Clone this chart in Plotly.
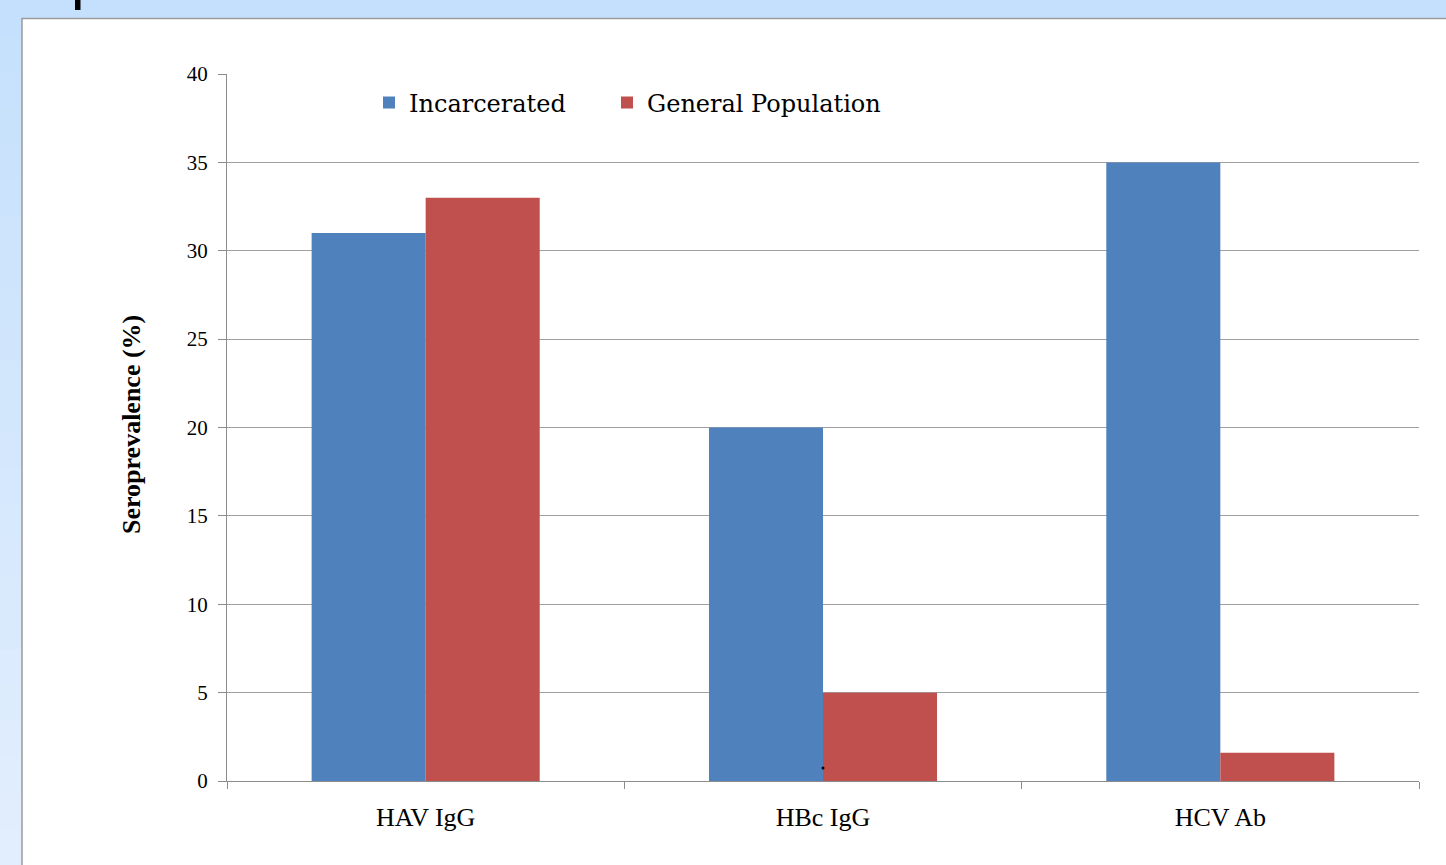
import plotly.graph_objects as go

categories = ["HAV IgG", "HBc IgG", "HCV Ab"]
incarcerated = [31, 20, 35]
general_population = [33, 5, 1.6]
series_names = ["Incarcerated", "General Population"]
y_ticks = [0, 5, 10, 15, 20, 25, 30, 35, 40]

W, H = 1446, 865
L, R, T, B = 227, 1419, 74, 781
pw, ph = R - L, B - T

def px(x):
    return (x - L) / pw

def py(y):
    return (B - y) / ph

SERIF = "Liberation Serif, Times New Roman, serif"
WIDE_SERIF = "DejaVu Serif, serif"

fig = go.Figure()
fig.add_trace(go.Bar(x=categories, y=incarcerated, name=series_names[0],
                     legend="legend",
                     marker=dict(color="#4F81BD", line=dict(width=0))))
fig.add_trace(go.Bar(x=categories, y=general_population, name=series_names[1],
                     legend="legend2",
                     marker=dict(color="#C0504D", line=dict(width=0))))

shapes = []
# gradient slide background
n = 24
top_c = (197, 224, 252)
bot_c = (226, 238, 253)
for i in range(n):
    t = i / (n - 1)
    c = tuple(round(top_c[k] + (bot_c[k] - top_c[k]) * t) for k in range(3))
    y0 = i * H / n
    y1 = (i + 1) * H / n + 1
    shapes.append(dict(type="rect", xref="paper", yref="paper", layer="below",
                       x0=px(-5), x1=px(W + 5), y0=py(y1), y1=py(y0),
                       fillcolor="rgb(%d,%d,%d)" % c, line=dict(width=0)))
# white panel
shapes.append(dict(type="rect", xref="paper", yref="paper", layer="below",
                   x0=px(22), x1=px(W + 20), y0=py(H + 20), y1=py(18.5),
                   fillcolor="white", line=dict(color="#9a9a9a", width=1.5)))
# black mark at top
shapes.append(dict(type="rect", xref="paper", yref="paper", layer="above",
                   x0=px(75), x1=px(80.5), y0=py(10), y1=py(-2),
                   fillcolor="black", line=dict(width=0)))
# small dot
shapes.append(dict(type="circle", xref="paper", yref="paper", layer="above",
                   x0=px(821.5), x1=px(824.5), y0=py(769.5), y1=py(766.5),
                   fillcolor="black", line=dict(width=0)))

legend_common = dict(orientation="h", yanchor="middle", xanchor="left",
                     font=dict(family=WIDE_SERIF, size=24, color="black"),
                     bgcolor="rgba(0,0,0,0)", itemwidth=30, tracegroupgap=0)

fig.update_layout(
    width=W, height=H,
    margin=dict(l=L, r=W - R, t=T, b=H - B, pad=0),
    paper_bgcolor="rgb(210,230,252)",
    plot_bgcolor="rgba(0,0,0,0)",
    barmode="group",
    bargap=0.426,
    bargroupgap=0,
    shapes=shapes,
    showlegend=True,
    legend=dict(x=px(369), y=py(103), **legend_common),
    legend2=dict(x=px(607), y=py(103), **legend_common),
    font=dict(family=SERIF, color="black"),
    xaxis=dict(
        type="category",
        showgrid=False,
        showline=True, linecolor="#8c8c8c", linewidth=1,
        ticks="outside", ticklen=7, tickcolor="#8c8c8c", tickwidth=1,
        tickson="boundaries",
        tickfont=dict(family=SERIF, size=26, color="black"),
        ticklabelstandoff=13,
        range=[-0.5, 2.5],
    ),
    yaxis=dict(
        range=[0, 40],
        tickvals=y_ticks,
        showgrid=True, gridcolor="#a0a0a0", gridwidth=1,
        showline=True, linecolor="#8c8c8c", linewidth=1,
        ticks="outside", ticklen=8, tickcolor="#8c8c8c", tickwidth=1,
        tickfont=dict(family=SERIF, size=21, color="black"),
        ticklabelstandoff=6,
        zeroline=False,
    ),
    annotations=[dict(
        text="<b>Seroprevalence (%)</b>", textangle=-90,
        xref="paper", yref="paper", x=px(131), y=py(425),
        xanchor="center", yanchor="middle", showarrow=False,
        font=dict(family=SERIF, size=26, color="black"),
    )],
)

fig.write_html(
    "out.html",
    config={"displayModeBar": False},
    post_script="document.body.style.margin='0';document.body.style.overflow='hidden';",
)
